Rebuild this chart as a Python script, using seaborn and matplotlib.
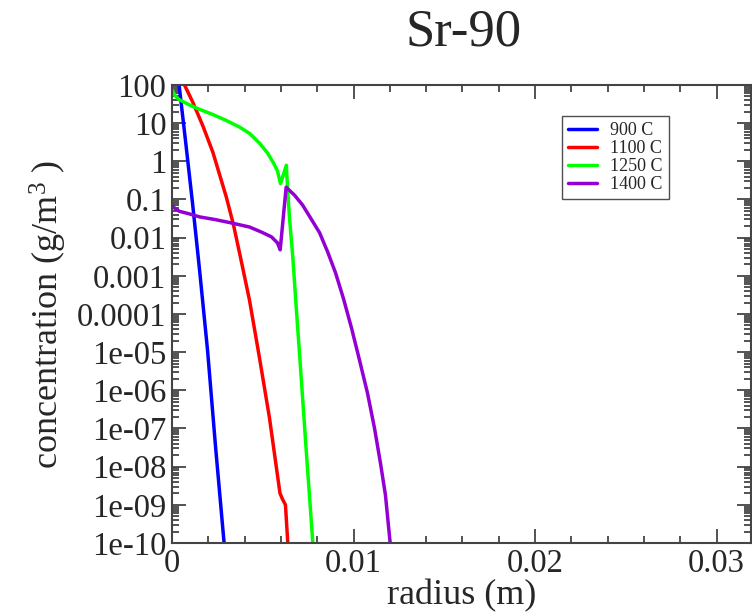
import numpy as np
import pandas as pd
import matplotlib
matplotlib.use("Agg")
import matplotlib.pyplot as plt
import seaborn as sns
from matplotlib.ticker import LogLocator, MultipleLocator, NullFormatter

# ---- data ----
labels = ["900 C", "1100 C", "1250 C", "1400 C"]
colors = ["#0000ff", "#ff0000", "#00ff00", "#9400d3"]

x_900 = [0, 0.00039, 0.00074, 0.00113, 0.00152, 0.00196, 0.0024, 0.00287, 0.00292]
y_900 = [3000, 100, 3.6, 0.081, 1.4e-3, 1.1e-5, 3.3e-8, 1.0e-10, 4e-11]

x_1100 = [0, 0.00069, 0.00115, 0.0017, 0.00225, 0.00299, 0.00339, 0.00377,
          0.00427, 0.00482, 0.00537, 0.00595, 0.00609, 0.00625, 0.00638]
y_1100 = [400, 100, 35, 8.5, 1.74, 0.117, 0.0215, 3.1e-3,
          2.3e-4, 7.1e-6, 1.9e-7, 2.0e-9, 1.4e-9, 1.0e-9, 1.0e-10]

x_1250 = [0, 0.00019, 0.00041, 0.00096, 0.00152, 0.00223, 0.0030, 0.00372,
          0.00427, 0.00482, 0.00526, 0.00559, 0.00581, 0.00598, 0.0063,
          0.00639, 0.00647, 0.00666, 0.00684, 0.00712, 0.00739, 0.00767, 0.00776]
y_1250 = [74, 51, 41, 30, 23, 17, 11.7, 7.9,
          5.4, 3.0, 1.66, 0.91, 0.56, 0.26, 0.79,
          0.13, 0.035, 2.9e-3, 1.6e-4, 2.1e-6, 2.9e-8, 4.0e-10, 1.0e-10]

x_1400 = [0, 0.00019, 0.00041, 0.00096, 0.00152, 0.00234, 0.00333, 0.00427,
          0.00493, 0.00548, 0.00581, 0.00596, 0.00629, 0.00675, 0.00719,
          0.00763, 0.00813, 0.00857, 0.00901, 0.00945, 0.00989, 0.01033,
          0.01077, 0.01116, 0.01149, 0.01176, 0.01202]
y_1400 = [0.072, 0.056, 0.049, 0.042, 0.035, 0.030, 0.024, 0.019,
          0.014, 0.0105, 7.3e-3, 4.8e-3, 0.21, 0.13, 0.072,
          0.033, 0.0135, 4.3e-3, 1.2e-3, 2.5e-4, 4.3e-5, 6.2e-6,
          8.5e-7, 1.0e-7, 1.2e-8, 1.8e-9, 1.0e-10]

y_ticks = [1e-10, 1e-9, 1e-8, 1e-7, 1e-6, 1e-5, 1e-4, 1e-3, 1e-2, 1e-1, 1, 10, 100]
y_ticklabels = ["1e-10", "1e-09", "1e-08", "1e-07", "1e-06", "1e-05",
                "0.0001", "0.001", "0.01", "0.1", "1", "10", "100"]
x_ticks = [0, 0.01, 0.02, 0.03]
x_ticklabels = ["0", "0.01", "0.02", "0.03"]

# ---- build long table ----
frames = []
for lab, xs, ys in zip(labels,
                       [x_900, x_1100, x_1250, x_1400],
                       [y_900, y_1100, y_1250, y_1400]):
    frames.append(pd.DataFrame({"radius": xs, "conc": ys, "series": lab}))
df = pd.concat(frames, ignore_index=True)

sns.set_style("ticks")
plt.rcParams["font.family"] = ["Liberation Serif", "DejaVu Serif"]
plt.rcParams["mathtext.fontset"] = "custom"
plt.rcParams["mathtext.rm"] = "Liberation Serif"
plt.rcParams["mathtext.default"] = "regular"

fig = plt.figure(figsize=(7.52, 6.16), dpi=100)
ax = fig.add_axes([172 / 752, 1 - 543 / 616, (751 - 172) / 752, (543 - 85) / 616])

sns.lineplot(data=df, x="radius", y="conc", hue="series", hue_order=labels,
             palette=colors, sort=False, estimator=None, linewidth=2.5,
             ax=ax, legend=True)

ax.set_yscale("log")
ax.set_ylim(1e-10, 100)
ax.set_xlim(0, 0.0319)

ax.set_yticks(y_ticks)
ax.set_yticklabels(y_ticklabels)
ax.yaxis.set_minor_locator(LogLocator(base=10, subs=np.arange(2, 10), numticks=50))
ax.yaxis.set_minor_formatter(NullFormatter())
ax.set_xticks(x_ticks)
ax.set_xticklabels(x_ticklabels)
ax.xaxis.set_minor_locator(MultipleLocator(0.002))

spine_col = "#444444"
for s in ax.spines.values():
    s.set_color(spine_col)
    s.set_linewidth(1.5)
    s.set_visible(True)

ax.tick_params(axis="both", which="both", direction="in", top=True, right=True,
               color=spine_col, width=1.3)
ax.tick_params(axis="both", which="major", length=10, labelsize=23.5, pad=4)
ax.tick_params(axis="both", which="minor", length=5)

ax.set_xlabel("radius (m)", fontsize=26, labelpad=0)
ax.set_ylabel(r"concentration (g/m$^{3}$ )", fontsize=26, labelpad=6)
fig.text(464 / 752, 1 - 33 / 616, "Sr-90", fontsize=38, ha="center", va="center")

leg = ax.legend(loc="upper left", bbox_to_anchor=((562 - 172) / 579, (543 - 116) / 458),
                fontsize=13, frameon=True, fancybox=False, borderpad=0.35,
                labelspacing=0.05, handlelength=1.6, handletextpad=0.7,
                borderaxespad=0)
leg.get_frame().set_edgecolor("#222222")
leg.get_frame().set_linewidth(1.0)
for line in leg.get_lines():
    line.set_linewidth(2.5)

fig.savefig("out.png", dpi=100)
